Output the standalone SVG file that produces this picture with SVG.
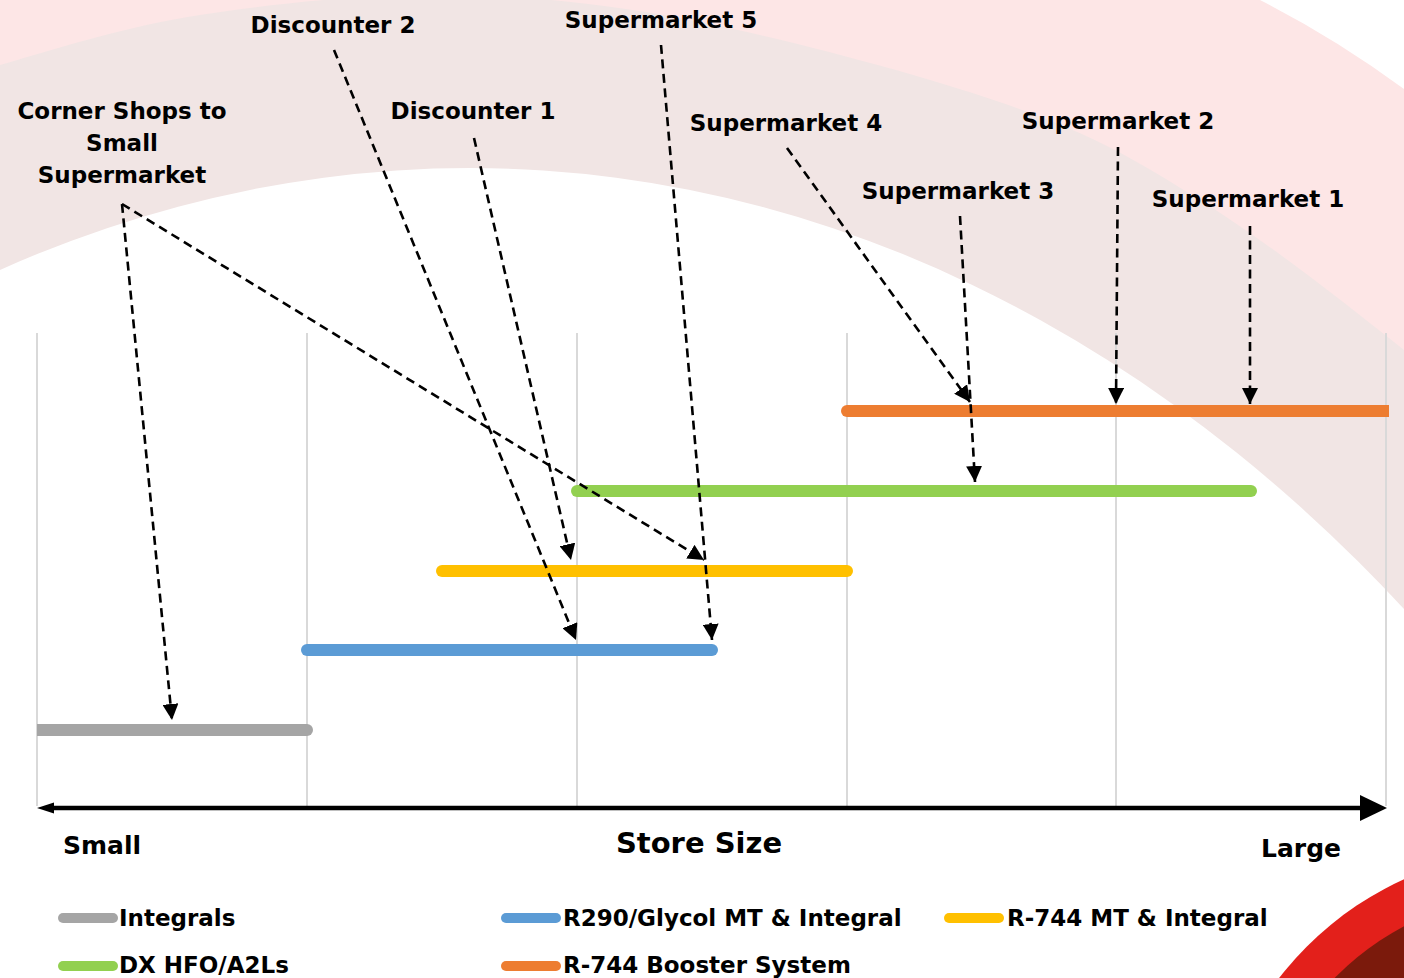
<svg xmlns="http://www.w3.org/2000/svg" width="1404" height="978" viewBox="0 0 1404 978">
<style>
text{font-family:"DejaVu Sans","Liberation Sans",sans-serif;font-weight:bold;fill:#000}
.lbl{font-size:23px;text-anchor:middle}
.leg{font-size:23px}
.ax{font-size:25px}
.grid{stroke:#d9d9d9;stroke-width:2}
.bar{stroke-width:12;stroke-linecap:round;fill:none}
.lgl{stroke-width:10;stroke-linecap:round;fill:none}
.con{stroke:#000;stroke-width:2.6;stroke-dasharray:9 5.5;fill:none;marker-end:url(#ah)}
</style>
<defs>
<marker id="ah" markerUnits="userSpaceOnUse" markerWidth="16" markerHeight="16" refX="16" refY="8" orient="auto"><path d="M0,0 L16,8 L0,16 Z" fill="#000"/></marker>
<clipPath id="plot"><rect x="37" y="300" width="1352" height="500"/></clipPath>
</defs>
<g id="background">
<rect width="1404" height="978" fill="#fff"/>
<path d="M0,0 L1260,0 Q1335,38 1404,89 L1404,978 L0,978 Z" fill="#fde6e6"/>
<path d="M0,65 C66.7,45.8 125,26.7 200,15 C275,3.3 366.7,-6.2 450,-5 C533.3,-3.8 606,3.3 700,22 C794,40.7 930.7,77.3 1014,107 C1097.3,136.7 1135,159.5 1200,200 C1265,240.5 1337.3,296.7 1404,350 L1404,978 L0,978 Z" fill="#f1e5e4"/>
<ellipse cx="470" cy="2168" rx="1491" ry="2000" fill="#fff"/>
<circle cx="1540" cy="1180" r="330" fill="#e3201b"/>
<circle cx="1540" cy="1180" r="288" fill="#7b1a0c"/>
</g>
<g id="grid">
<line class="grid" x1="37" y1="333" x2="37" y2="806"/>
<line class="grid" x1="307" y1="333" x2="307" y2="806"/>
<line class="grid" x1="577" y1="333" x2="577" y2="806"/>
<line class="grid" x1="847" y1="333" x2="847" y2="806"/>
<line class="grid" x1="1116" y1="333" x2="1116" y2="806"/>
<line class="grid" x1="1386" y1="333" x2="1386" y2="806"/>
</g>
<g id="bars" clip-path="url(#plot)">
<line id="bar-integrals" class="bar" x1="37" y1="730" x2="307" y2="730" stroke="#a5a5a5"/>
<line id="bar-r290" class="bar" x1="307" y1="650" x2="712" y2="650" stroke="#5b9bd5"/>
<line id="bar-r744mt" class="bar" x1="442" y1="571" x2="847" y2="571" stroke="#ffc000"/>
<line id="bar-dx" class="bar" x1="577" y1="491" x2="1251" y2="491" stroke="#92d050"/>
<line id="bar-booster" class="bar" x1="847" y1="411" x2="1400" y2="411" stroke="#ed7d31"/>
</g>
<g id="axis">
<line x1="50" y1="808" x2="1362" y2="808" stroke="#000" stroke-width="4.5"/>
<polygon points="1360,795 1387,808 1360,821" fill="#000"/>
<polygon points="54,802.5 37,808 54,813.5" fill="#000"/>
<text class="ax" x="63" y="854">Small</text>
<text x="699" y="853" style="font-size:29px;text-anchor:middle">Store Size</text>
<text class="ax" x="1301" y="857" style="text-anchor:middle">Large</text>
</g>
<g id="node-corner"><text class="lbl" x="122" y="119">Corner Shops to</text><text class="lbl" x="122" y="151">Small</text><text class="lbl" x="122" y="183">Supermarket</text></g>
<g id="node-discounter2"><text class="lbl" x="333" y="33">Discounter 2</text></g>
<g id="node-discounter1"><text class="lbl" x="473" y="119">Discounter 1</text></g>
<g id="node-supermarket5"><text class="lbl" x="661" y="28">Supermarket 5</text></g>
<g id="node-supermarket4"><text class="lbl" x="786" y="131">Supermarket 4</text></g>
<g id="node-supermarket3"><text class="lbl" x="958" y="199">Supermarket 3</text></g>
<g id="node-supermarket2"><text class="lbl" x="1118" y="129">Supermarket 2</text></g>
<g id="node-supermarket1"><text class="lbl" x="1248" y="207">Supermarket 1</text></g>
<g id="connectors">
<line class="con" x1="122" y1="204" x2="172" y2="720"/>
<line class="con" x1="122" y1="204" x2="704" y2="560"/>
<line class="con" x1="334" y1="50" x2="576" y2="640"/>
<line class="con" x1="474" y1="138" x2="571" y2="560"/>
<line class="con" x1="661" y1="45" x2="712" y2="640"/>
<line class="con" x1="787" y1="148" x2="970" y2="402"/>
<line class="con" x1="960" y1="216" x2="975" y2="482"/>
<line class="con" x1="1118" y1="147" x2="1116" y2="404"/>
<line class="con" x1="1250" y1="226" x2="1250" y2="404"/>
</g>
<g id="legend">
<line class="lgl" x1="63" y1="918" x2="113" y2="918" stroke="#a5a5a5"/>
<text class="leg" x="119" y="926">Integrals</text>
<line class="lgl" x1="506" y1="918" x2="556" y2="918" stroke="#5b9bd5"/>
<text class="leg" x="563" y="926">R290/Glycol MT &amp; Integral</text>
<line class="lgl" x1="949" y1="918" x2="999" y2="918" stroke="#ffc000"/>
<text class="leg" x="1007" y="926">R-744 MT &amp; Integral</text>
<line class="lgl" x1="63" y1="966" x2="113" y2="966" stroke="#92d050"/>
<text class="leg" x="119" y="973">DX HFO/A2Ls</text>
<line class="lgl" x1="506" y1="966" x2="556" y2="966" stroke="#ed7d31"/>
<text class="leg" x="563" y="973">R-744 Booster System</text>
</g>
</svg>
